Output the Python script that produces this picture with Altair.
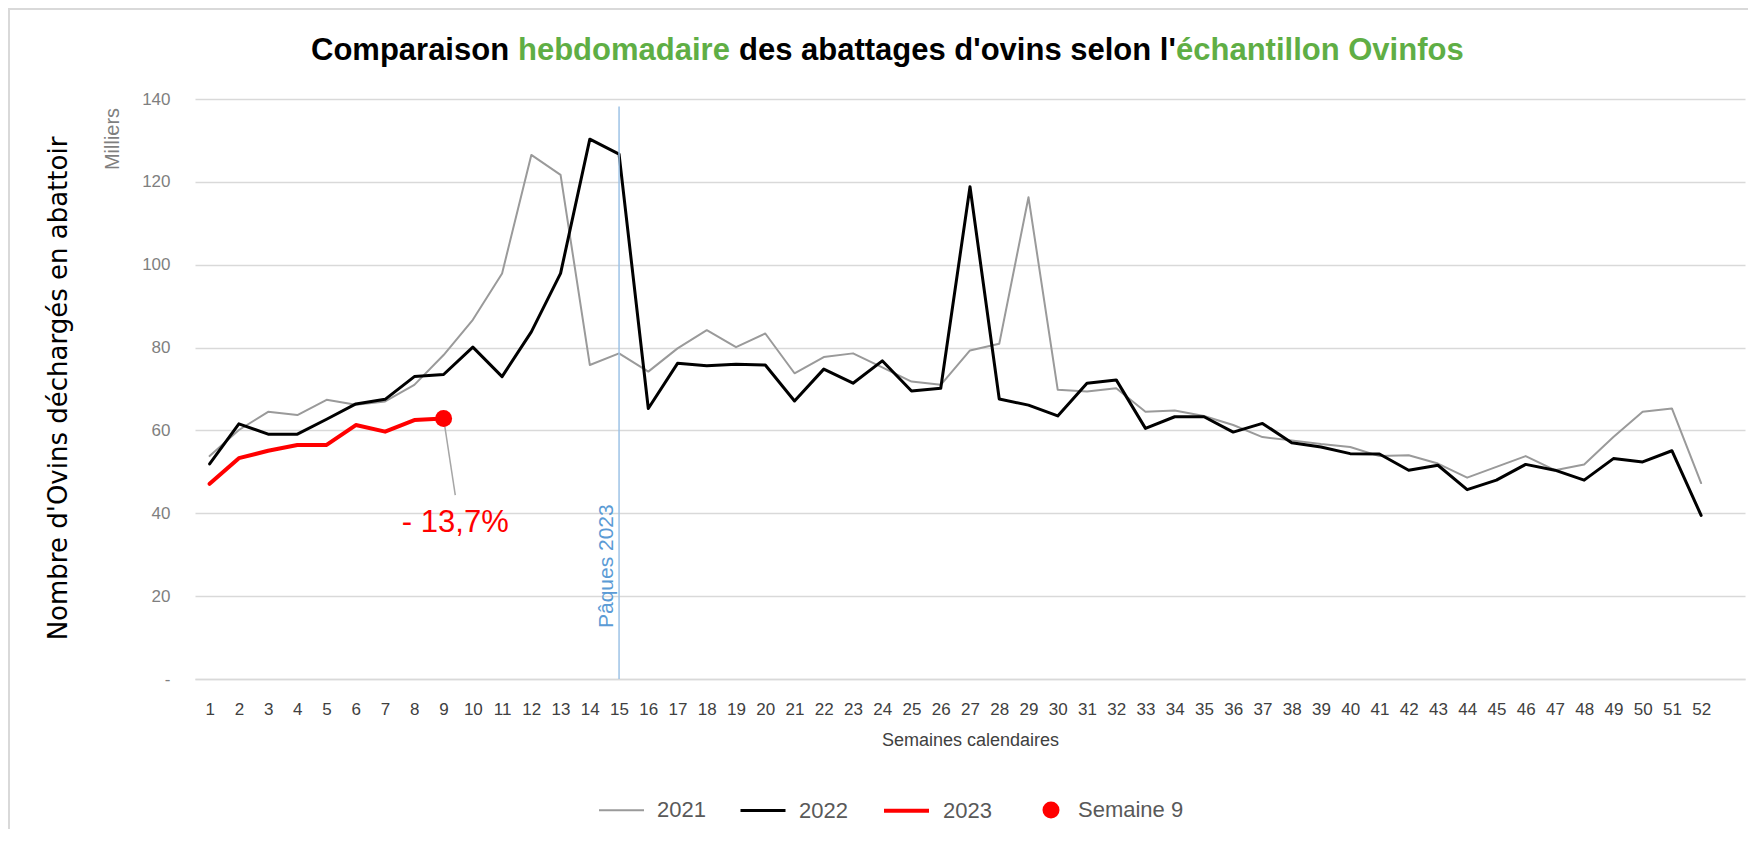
import altair as alt
import pandas as pd

# ---------------- data ----------------
weeks = list(range(1, 53))
v2021 = [53.8, 60.1, 64.5, 63.7, 67.4, 66.2, 67.0, 71.0, 78.2, 86.7,
         97.9, 126.5, 121.7, 75.8, 78.6, 74.2, 79.8, 84.2, 80.1, 83.4,
         73.8, 77.7, 78.6, 75.2, 71.8, 71.0, 79.3, 80.9, 116.3, 69.8,
         69.4, 70.2, 64.5, 64.8, 63.5, 61.3, 58.4, 57.6, 56.7, 56.0,
         53.8, 54.0, 52.0, 48.6, 51.2, 53.8, 50.4, 51.8, 58.4, 64.5,
         65.3, 47.3]
v2022 = [51.9, 61.6, 59.1, 59.1, 62.7, 66.4, 67.5, 73.0, 73.5, 80.1,
         73.0, 83.8, 97.9, 130.3, 126.7, 65.3, 76.2, 75.6, 76.0, 75.8,
         67.1, 74.8, 71.4, 76.8, 69.5, 70.2, 118.8, 67.6, 66.1, 63.5,
         71.4, 72.2, 60.5, 63.3, 63.3, 59.6, 61.7, 57.0, 56.0, 54.4,
         54.3, 50.4, 51.6, 45.7, 48.0, 51.8, 50.4, 48.0, 53.2, 52.4,
         55.1, 39.5]
v2023 = [47.1, 53.3, 55.1, 56.5, 56.5, 61.3, 59.7, 62.5, 62.9]
years = ["2021", "2022", "2023"]
year_colors = ["#9a9a9a", "#000000", "#ff0000"]
year_widths = [2, 4, 5]
y_ticks = [0, 20, 40, 60, 80, 100, 120, 140]

marker_label = "Semaine 9"
marker_week = 9
marker_value = 62.9
annot_text = "- 13,7%"
annot_week = 9.4
annot_value = 37.6
leader_end_value = 44.4
easter_week = 15
easter_top = 138.2
easter_label = "Pâques 2023"
easter_label_value = 12.3

title_parts = ["Comparaison", "hebdomadaire", "des abattages d'ovins selon l'", "échantillon Ovinfos"]
title_colors = ["#000000", "#5fae45", "#000000", "#5fae45"]
title_x = [116, 323, 544, 981]

# ---------------- tables ----------------
rows = []
for yr, vals in zip(years, [v2021, v2022, v2023]):
    for w, v in zip(weeks, vals):
        rows.append({"week": w, "value": v, "year": yr})
df = pd.DataFrame(rows)

W, H = 1550, 580
x_scale = alt.Scale(domain=[0.5, 53.5], nice=False, zero=False)
y_scale = alt.Scale(domain=[0, 140], nice=False)

x_enc = alt.X("week:Q", scale=x_scale, axis=alt.Axis(
    values=weeks, tickCount=60, format="d", grid=False, ticks=False, domain=True,
    domainColor="#d9d9d9", domainWidth=1.5, labelFontSize=17, labelColor="#404040",
    labelPadding=22, labelFont="Liberation Sans", labelFlush=False, labelOverlap=False,
    title="Semaines calendaires", titleFontSize=18, titleFontWeight="normal",
    titleColor="#404040", titlePadding=14, titleFont="Liberation Sans"))
y_enc = alt.Y("value:Q", scale=y_scale, axis=alt.Axis(
    values=y_ticks, grid=True, gridColor="#d9d9d9", gridWidth=1.5, domain=False,
    ticks=False, labelFontSize=17, labelColor="#7f7f7f", labelPadding=25,
    labelFont="Liberation Sans",
    labelExpr="datum.value == 0 ? '-' : datum.label",
    title="Nombre d'Ovins déchargés en abattoir", titleFont="DejaVu Sans",
    titleFontSize=26, titleFontWeight="normal", titleColor="#000000",
    titleX=-137, titleY=289, titleAngle=270, titleAlign="center",
    titleBaseline="middle"))

line_legend = alt.Legend(orient="none", legendX=403, legendY=687, direction="horizontal",
                         symbolType="stroke", symbolSize=2025, labelFontSize=22,
                         labelColor="#595959", labelFont="Liberation Sans",
                         labelOffset=12, columnPadding=28, padding=0, title=None)

lines = alt.Chart(df).mark_line(strokeJoin="round", strokeCap="round").encode(
    x=x_enc, y=y_enc,
    color=alt.Color("year:N", scale=alt.Scale(domain=years, range=year_colors), legend=line_legend),
    strokeWidth=alt.StrokeWidth("year:N", scale=alt.Scale(domain=years, range=year_widths), legend=line_legend),
)

easter_df = pd.DataFrame({"week": [easter_week], "value": [0], "value2": [easter_top]})
easter_rule = alt.Chart(easter_df).mark_rule(color="#9dc3e6", strokeWidth=1.5).encode(
    x=alt.X("week:Q", scale=x_scale), y=alt.Y("value:Q", scale=y_scale), y2="value2:Q")

easter_txt_df = pd.DataFrame({"week": [easter_week], "value": [easter_label_value], "t": [easter_label]})
easter_txt = alt.Chart(easter_txt_df).mark_text(
    angle=270, align="left", baseline="bottom", fontSize=21, font="Liberation Sans",
    color="#5b9bd5", dy=-2).encode(
    x=alt.X("week:Q", scale=x_scale), y=alt.Y("value:Q", scale=y_scale), text="t:N")

leader_df = pd.DataFrame({"week": [marker_week], "value": [marker_value],
                          "week2": [annot_week], "value2": [leader_end_value]})
leader = alt.Chart(leader_df).mark_rule(color="#a6a6a6", strokeWidth=1.5).encode(
    x=alt.X("week:Q", scale=x_scale), y=alt.Y("value:Q", scale=y_scale),
    x2="week2:Q", y2="value2:Q")

annot_df = pd.DataFrame({"week": [annot_week], "value": [annot_value], "t": [annot_text]})
annot = alt.Chart(annot_df).mark_text(fontSize=31, font="Liberation Sans", color="#ff0000",
                                      align="center", baseline="middle").encode(
    x=alt.X("week:Q", scale=x_scale), y=alt.Y("value:Q", scale=y_scale), text="t:N")

point_df = pd.DataFrame({"week": [marker_week], "value": [marker_value], "m": [marker_label]})
point = alt.Chart(point_df).mark_circle(size=289, opacity=1).encode(
    x=alt.X("week:Q", scale=x_scale), y=alt.Y("value:Q", scale=y_scale),
    fill=alt.Fill("m:N", scale=alt.Scale(domain=[marker_label], range=["#ff0000"]),
                  legend=alt.Legend(orient="none", legendX=845, legendY=700,
                                    direction="horizontal", symbolType="circle",
                                    symbolSize=289, symbolStrokeWidth=0,
                                    labelFontSize=22, labelColor="#595959",
                                    labelFont="Liberation Sans", labelOffset=16,
                                    padding=0, title=None)))

title_layers = []
for part, col, xp in zip(title_parts, title_colors, title_x):
    tdf = pd.DataFrame({"t": [part]})
    title_layers.append(alt.Chart(tdf).mark_text(
        align="left", baseline="alphabetic", fontSize=31, fontWeight="bold",
        font="Liberation Sans", color=col).encode(
        x=alt.value(xp), y=alt.value(-39), text="t:N"))

mill = alt.Chart(pd.DataFrame({"t": ["Milliers"]})).mark_text(
    angle=270, align="center", baseline="middle", fontSize=20,
    font="Liberation Sans", color="#7f7f7f").encode(
    x=alt.value(-82), y=alt.value(40), text="t:N")

frame = alt.Chart(pd.DataFrame({"a": [0]})).mark_rect(
    filled=False, stroke="#d9d9d9", strokeWidth=2).encode(
    x=alt.value(-186), y=alt.value(-90), x2=alt.value(2000), y2=alt.value(2000))

chart = alt.layer(
    frame, lines, easter_rule, easter_txt, leader, point, annot, mill, *title_layers
).properties(
    width=W, height=H,
    autosize=alt.AutoSizeParams(type="none"),
    padding={"left": 187, "top": 91, "right": 3, "bottom": 150},
    background="white",
).configure_view(strokeWidth=0).configure_axisX(labelOverlap=False, labelSeparation=0)

chart.save("out.html", embed_options={"renderer": "svg", "actions": False})
